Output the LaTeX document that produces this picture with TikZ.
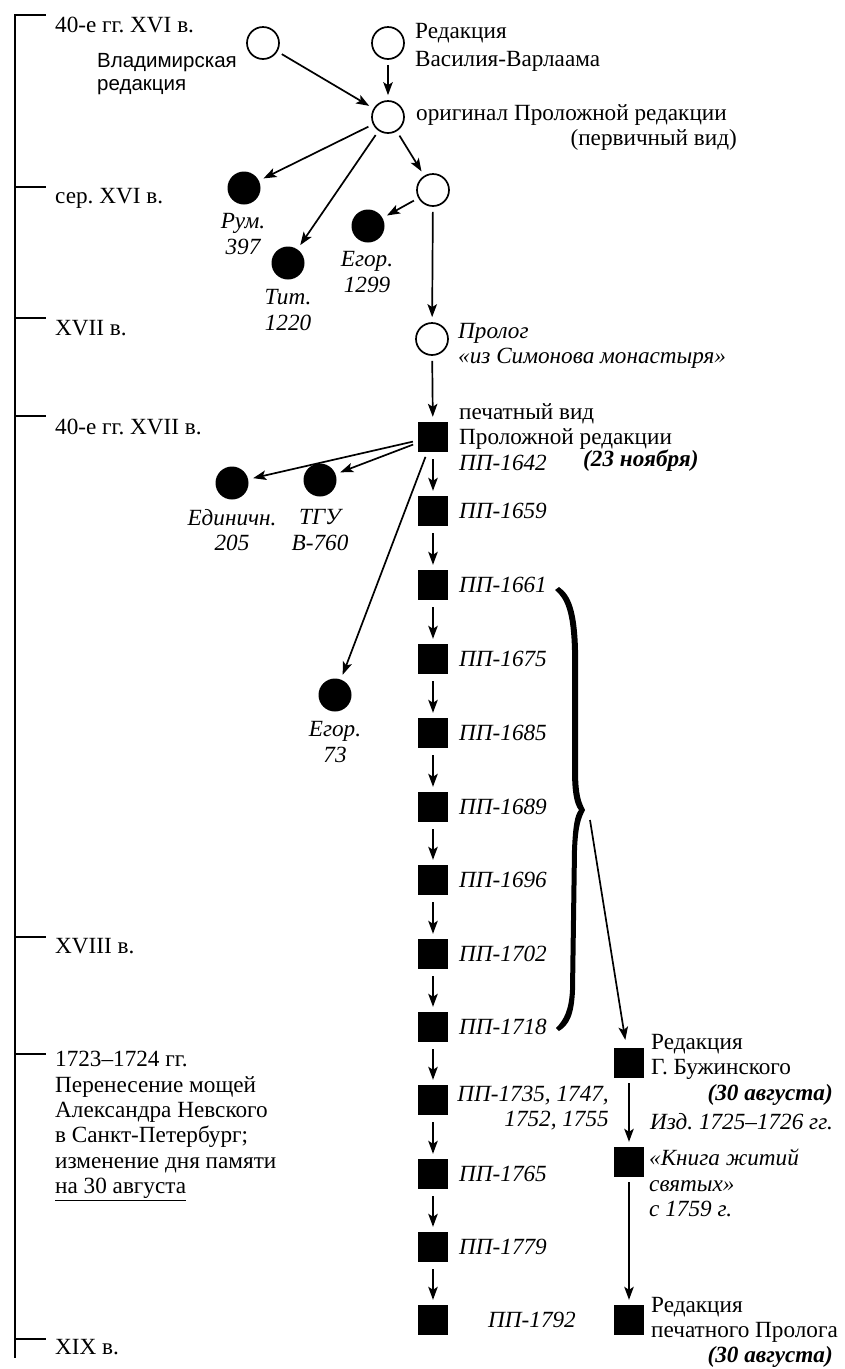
\documentclass[tikz,border=0pt]{standalone}
\usepackage{fontspec}
\setmainfont{Liberation Serif}
\newfontfamily\sansf{Liberation Sans}
\usetikzlibrary{arrows.meta}
\begin{document}
\frenchspacing
\begin{tikzpicture}[x=1pt,y=-1pt,
  txt/.style={inner sep=0pt,font=\fontsize{23.2}{25.3}\selectfont},
  itx/.style={txt,font=\fontsize{23.2}{25.3}\selectfont\itshape},
  bix/.style={txt,font=\fontsize{23.2}{25.3}\selectfont\bfseries\itshape},
  oc/.style={circle,draw,line width=1.7pt,minimum size=32pt,inner sep=0pt},
  bc/.style={circle,fill,minimum size=33pt,inner sep=0pt},
  sq/.style={rectangle,fill,minimum size=30pt,inner sep=0pt},
  arr/.style={line width=1.7pt,-{Stealth[length=13pt,width=9.5pt,inset=3pt]},shorten <=5pt,shorten >=5pt},
  tick/.style={line width=2.3pt}]
\useasboundingbox (0,0) rectangle (845,1369);
% timeline
\draw[line width=2.7pt] (15,14) -- (15,1358);
\foreach \y in {15,187,318,416,937,1054,1339}{\draw[tick] (14,\y) -- (46,\y);}
\node[txt,anchor=west] (t1) at (55,25) {40-е гг. XVI в.};
\node[txt,anchor=west] (t2) at (55,198) {сер. XVI в.};
\node[txt,anchor=west] (t3) at (55,328) {XVII в.};
\node[txt,anchor=west] (t4) at (55,427) {40-е гг. XVII в.};
\node[txt,anchor=west] (t5) at (55,946) {XVIII в.};
\node[txt,anchor=west,align=left] (t6) at (55,1126) {1723–1724 гг.\\Перенесение мощей\\Александра Невского\\в Санкт-Петербург;\\изменение дня памяти\\\underline{на 30 августа}};
\node[txt,anchor=west] (t7) at (55,1347) {XIX в.};
% top circles
\node[oc] (vl) at (263,43) {};
\node[oc] (vv) at (388,43) {};
\node[oc] (or) at (388,117) {};
\node[oc] (lc) at (433,190) {};
\node[oc] (pr) at (432,339) {};
\node[bc] (rum) at (244,188) {};
\node[bc] (tit) at (288,263) {};
\node[bc] (eg1) at (368,226) {};
\node[txt,anchor=west,align=left,font=\fontsize{20.5}{23}\selectfont\sansf] (vll) at (97,74) {Владимирская\\редакция};
\node[txt,anchor=west,align=left,font=\fontsize{23.2}{28}\selectfont] (vvl) at (415,47) {Редакция\\Василия-Варлаама};
\node[txt,anchor=west] (orl) at (416,115) {оригинал Проложной редакции};
\node[txt,anchor=east] (orl2) at (737,140) {(первичный вид)};
\node[itx,align=center] (ruml) at (243,234) {Рум.\\397};
\node[itx,align=center] (titl) at (288,310) {Тит.\\1220};
\node[itx,align=center] (eg1l) at (367,272) {Егор.\\1299};
\node[itx,anchor=west,align=left] (prl) at (458,346) {Пролог\\«из Симонова монастыря»};
\draw[arr] (vl) -- (or);
\draw[arr] (vv) -- (or);
\draw[arr] (or) -- (rum);
\draw[arr] (or) -- (tit);
\draw[arr] (or) -- (lc);
\draw[arr] (lc) -- (eg1);
\draw[arr] (lc) -- (pr);
% main column
\foreach \n/\y in {s1/437,s2/511,s3/585,s4/659,s5/733,s6/807,s7/880,s8/954,s9/1027,s10/1100,s11/1174,s12/1247,s13/1320}{\node[sq] (\n) at (433,\y) {};}
\draw[arr] (pr) -- (s1);
\foreach \a/\b in {s1/s2,s2/s3,s3/s4,s4/s5,s5/s6,s6/s7,s7/s8,s8/s9,s9/s10,s10/s11,s11/s12,s12/s13}{\draw[arr,shorten <=7pt,shorten >=5pt] (\a) -- (\b);}
\node[txt,anchor=west,align=left] (s1l) at (459,437) {печатный вид\\Проложной редакции\\\textit{ПП-1642}};
\node[bix,anchor=west] (s1d) at (583,461) {(23 ноября)};
\foreach \n/\y/\t in {s2/511/1659,s3/585/1661,s4/659/1675,s5/733/1685,s6/807/1689,s7/880/1696,s8/954/1702,s9/1027/1718,s11/1174/1765,s12/1247/1779}{\node[itx,anchor=west] (\n l) at (459,\y) {ПП-\t};}
\node[itx,anchor=east,align=right] (s10l) at (609,1108) {ПП-1735, 1747,\\1752, 1755};
\node[itx,anchor=west] (s13l) at (488,1320) {ПП-1792};
% second group of manuscripts
\node[bc] (ed) at (232,483) {};
\node[bc] (tgu) at (320,480) {};
\node[bc] (eg2) at (335,695) {};
\node[itx,align=center] (edl) at (232,530) {Единичн.\\205};
\node[itx,align=center] (tgul) at (320,530) {ТГУ\\В-760};
\node[itx,align=center] (eg2l) at (335,742) {Егор.\\73};
\draw[arr] (s1) -- (ed);
\draw[arr] (s1) -- (tgu);
\draw[arr] (s1) -- (eg2);
% brace
\fill (559,587) .. controls (571,595) and (577,612) .. (578,650) -- (578,770)
  .. controls (578,795) and (581,802) .. (585,810) .. controls (581,818) and (578,825) .. (577,850)
  -- (575,990) .. controls (574,1015) and (569,1025) .. (559,1031)
  -- (556,1028) .. controls (564,1020) and (569,1010) .. (570,990) -- (572,850)
  .. controls (573,825) and (575,815) .. (579,810) .. controls (575,805) and (572,795) .. (572,770)
  -- (572,650) .. controls (571,614) and (566,599) .. (555,590) -- cycle;
\coordinate (bt) at (590,820);
% side column
\node[sq] (bz) at (629,1063) {};
\node[sq] (kn) at (629,1162) {};
\node[sq] (pp) at (629,1320) {};
\draw[arr,shorten <=0pt,shorten >=8pt] (bt) -- (bz);
\draw[arr] (bz) -- (kn);
\draw[arr] (kn) -- (pp);
\node[txt,anchor=west,align=left] (bzl) at (651,1057) {Редакция\\Г. Бужинского};
\node[bix,anchor=east] (bzd) at (833,1095) {(30 августа)};
\node[itx,anchor=west] (bzi) at (650,1122) {Изд. 1725–1726 гг.};
\node[itx,anchor=west,align=left] (knl) at (649,1183) {«Книга житий\\святых»\\с 1759 г.};
\node[txt,anchor=west,align=left] (ppl) at (651,1320) {Редакция\\печатного Пролога};
\node[bix,anchor=east] (ppd) at (833,1357) {(30 августа)};
\end{tikzpicture}
\end{document}
